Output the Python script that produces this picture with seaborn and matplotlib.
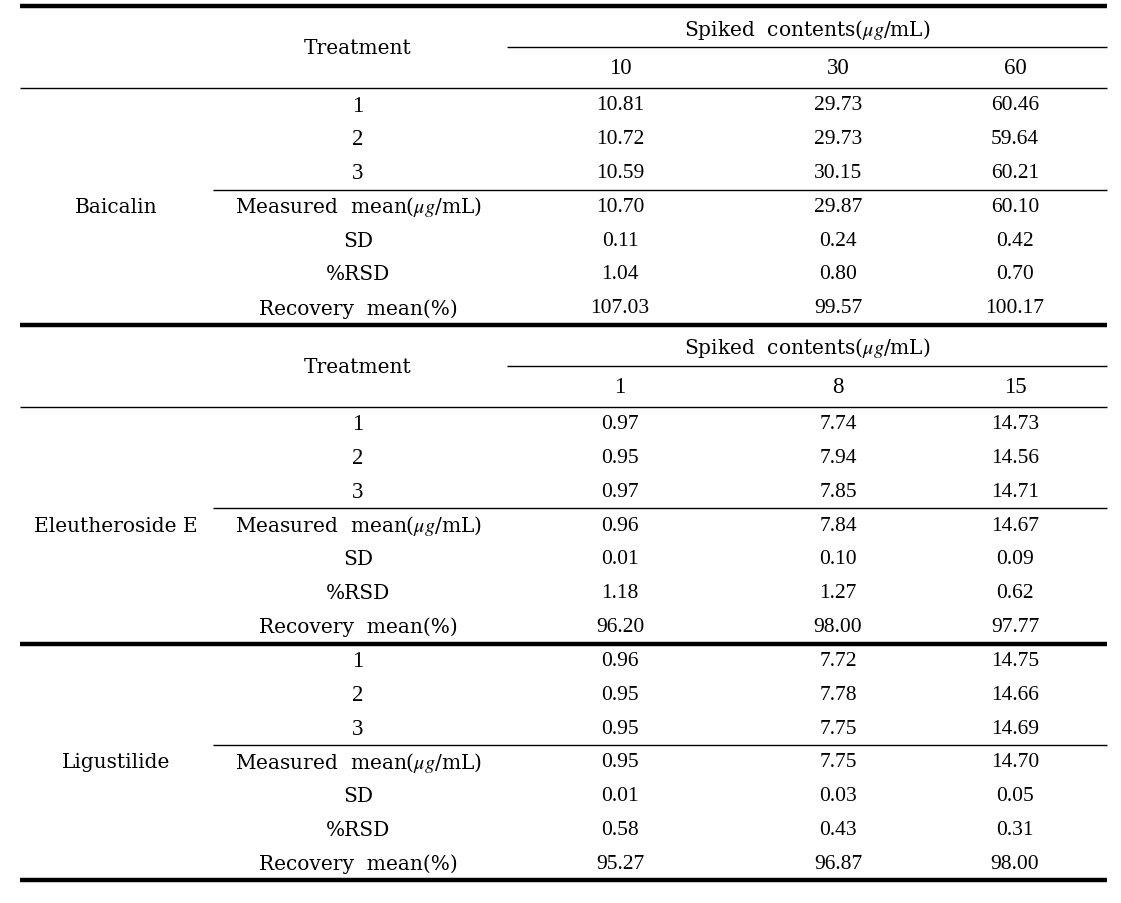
import matplotlib
matplotlib.use("Agg")
import matplotlib.pyplot as plt
import seaborn as sns

# table content
groups = ["Baicalin", "Eleutheroside E", "Ligustilide"]
spiked_levels = [["10", "30", "60"], ["1", "8", "15"], ["1", "8", "15"]]
show_header = [True, True, False]
row_labels = ["1", "2", "3", "Measured  mean($\\mu g$/mL)", "SD", "%RSD", "Recovery  mean(%)"]

baicalin = [[10.81, 29.73, 60.46],
            [10.72, 29.73, 59.64],
            [10.59, 30.15, 60.21],
            [10.70, 29.87, 60.10],
            [0.11, 0.24, 0.42],
            [1.04, 0.80, 0.70],
            [107.03, 99.57, 100.17]]
eleutheroside = [[0.97, 7.74, 14.73],
                 [0.95, 7.94, 14.56],
                 [0.97, 7.85, 14.71],
                 [0.96, 7.84, 14.67],
                 [0.01, 0.10, 0.09],
                 [1.18, 1.27, 0.62],
                 [96.20, 98.00, 97.77]]
ligustilide = [[0.96, 7.72, 14.75],
               [0.95, 7.78, 14.66],
               [0.95, 7.75, 14.69],
               [0.95, 7.75, 14.70],
               [0.01, 0.03, 0.05],
               [0.58, 0.43, 0.31],
               [95.27, 96.87, 98.00]]
values = [baicalin, eleutheroside, ligustilide]

sns.set_theme(style="white")
plt.rcParams["font.family"] = ["DejaVu Serif"]
plt.rcParams["mathtext.fontset"] = "stix"

W, H = 1121, 904
fig = plt.figure(figsize=(W / 100, H / 100), dpi=100)
ax = fig.add_axes([0, 0, 1, 1])
ax.set_xlim(0, W)
ax.set_ylim(H, 0)
ax.axis("off")

x_left, x_right = 20, 1107
x_group = 116
x_label = 358
x_cols = [620, 838, 1015]
x_sub = 507
x_rowline = 213
row_h = 33.8
fs = 14.5
fs_num = 15.5
num_font = "Liberation Serif"

def txt(x, y, s, size=fs, family=None):
    ax.text(x, y, s, ha="center", va="center", fontsize=size, color="black",
            family=family or "DejaVu Serif")

top = 7
ax.hlines(top, x_left, x_right, color="black", lw=3.2)
for g, name in enumerate(groups):
    if show_header[g]:
        txt((x_sub + x_right) / 2, top + 22.5, "Spiked  contents($\\mu g$/mL)")
        ax.hlines(top + 41, x_sub, x_right, color="black", lw=1)
        txt(x_label, top + 42, "Treatment")
        for x, lev in zip(x_cols, spiked_levels[g]):
            txt(x, top + 61.5, lev, fs_num + 1, num_font)
        ax.hlines(top + 82, x_left, x_right, color="black", lw=1)
        first = top + 99
    else:
        first = top + 17
    ys = [first + i * row_h for i in range(len(row_labels))]
    for i, lab in enumerate(row_labels):
        if i < 3:
            txt(x_label, ys[i], lab, fs_num + 1, num_font)
        else:
            txt(x_label, ys[i], lab)
        for x, v in zip(x_cols, values[g][i]):
            txt(x, ys[i], f"{v:.2f}", fs_num, num_font)
    ax.hlines((ys[2] + ys[3]) / 2, x_rowline, x_right, color="black", lw=1)
    txt(x_group, ys[3], name)
    top = ys[-1] + 17
    ax.hlines(top, x_left, x_right, color="black", lw=3.2)

fig.savefig("out.png", dpi=100)
